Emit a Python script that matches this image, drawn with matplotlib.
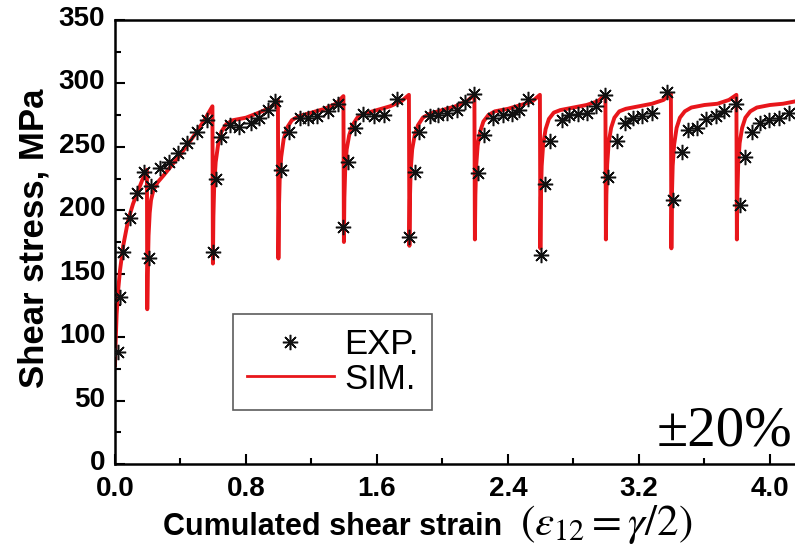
import numpy as np
import matplotlib
matplotlib.use('Agg')
import matplotlib.pyplot as plt
import matplotlib.transforms as mtransforms
from matplotlib.lines import Line2D
from matplotlib.ticker import MultipleLocator

plt.rcParams['font.family'] = ['Liberation Sans', 'DejaVu Sans']

# experimental points (cumulated strain, shear stress MPa)
exp_x = [0.02, 0.03, 0.05, 0.09, 0.135, 0.18, 0.205, 0.22, 0.275, 0.33, 0.385, 0.44,
         0.50, 0.56, 0.60, 0.615, 0.65, 0.70, 0.76, 0.83, 0.88, 0.935, 0.98,
         1.013, 1.06, 1.13, 1.18, 1.235, 1.30, 1.36,
         1.393, 1.425, 1.466, 1.516, 1.58, 1.64, 1.72,
         1.796, 1.833, 1.857, 1.925, 1.97, 2.03, 2.09, 2.14, 2.19,
         2.22, 2.254, 2.31, 2.37, 2.425, 2.47, 2.52,
         2.60, 2.627, 2.657, 2.73, 2.77, 2.83, 2.88, 2.94, 2.99,
         3.01, 3.066, 3.115, 3.165, 3.22, 3.28, 3.37,
         3.41, 3.46, 3.50, 3.555, 3.61, 3.67, 3.72, 3.79,
         3.82, 3.85, 3.89, 3.94, 3.995, 4.055, 4.115]
exp_y = [88, 132, 167, 194, 214, 230, 162, 219, 233, 238, 245, 253,
         262, 271, 167, 225, 258, 267, 266, 269, 273, 279, 286,
         232, 262, 273, 273, 274, 278, 284,
         187, 238, 265, 276, 274, 275, 288,
         179, 230, 262, 274, 275, 277, 279, 285, 292,
         229, 259, 273, 275, 276, 279, 288,
         165, 221, 255, 271, 275, 276, 277, 282, 291,
         226, 255, 269, 273, 274, 277, 293,
         208, 246, 263, 265, 272, 274, 278, 284,
         204, 242, 262, 269, 271, 273, 277]

# simulated curve
sim_x = [0.0, 0.005, 0.01, 0.02, 0.03, 0.05, 0.08, 0.11, 0.14, 0.17, 0.195,
         0.197,
         0.20, 0.205, 0.212, 0.22, 0.235, 0.26, 0.30, 0.35, 0.40, 0.45, 0.50, 0.55, 0.595,
         0.598,
         0.601, 0.606, 0.615, 0.63, 0.65, 0.68, 0.72, 0.80, 0.88, 0.95, 0.995,
         0.998,
         1.001, 1.006, 1.015, 1.03, 1.05, 1.08, 1.12, 1.20, 1.28, 1.35, 1.395,
         1.398,
         1.401, 1.406, 1.415, 1.43, 1.45, 1.48, 1.52, 1.60, 1.68, 1.75, 1.795,
         1.798,
         1.801, 1.806, 1.815, 1.83, 1.85, 1.88, 1.92, 2.00, 2.08, 2.15, 2.195,
         2.198,
         2.201, 2.206, 2.215, 2.23, 2.25, 2.28, 2.32, 2.40, 2.48, 2.55, 2.595,
         2.598,
         2.601, 2.606, 2.615, 2.63, 2.65, 2.68, 2.72, 2.80, 2.88, 2.95, 2.995,
         2.998,
         3.001, 3.006, 3.015, 3.03, 3.05, 3.08, 3.12, 3.20, 3.28, 3.35, 3.395,
         3.398,
         3.401, 3.406, 3.415, 3.43, 3.45, 3.48, 3.52, 3.60, 3.68, 3.75, 3.795,
         3.798,
         3.801, 3.806, 3.815, 3.83, 3.85, 3.88, 3.92, 4.00, 4.08, 4.16]
sim_y = [78, 100, 118, 138, 152, 172, 192, 205, 215, 225, 232,
         122,
         150, 180, 198, 208, 216, 222, 228, 236, 244, 253, 262, 272, 282,
         158,
         195, 220, 238, 252, 262, 268, 271, 273, 277, 281, 287,
         162,
         200, 225, 242, 256, 265, 271, 274, 277, 280, 284, 290,
         175,
         210, 232, 248, 259, 267, 273, 276, 279, 282, 286, 291,
         172,
         208, 232, 248, 259, 267, 273, 276, 279, 282, 286, 291,
         177,
         212, 235, 251, 262, 270, 275, 278, 280, 283, 286, 291,
         170,
         210, 235, 252, 264, 272, 277, 279, 281, 283, 286, 291,
         177,
         212, 236, 253, 265, 273, 278, 280, 282, 284, 287, 292,
         170,
         210, 235, 252, 265, 273, 278, 281, 283, 284, 287, 291,
         177,
         212, 236, 253, 265, 273, 278, 281, 283, 284, 286]

red = '#e8161b'

fig = plt.figure(figsize=(7.95, 5.59), dpi=100)
ax = fig.add_axes([115 / 795, 1 - 464 / 559, 680 / 795, 444 / 559])

ax.plot(sim_x, sim_y, color=red, lw=2.8, zorder=2)
ax.plot(exp_x, exp_y, ls='none', marker=(8, 2, 0), ms=11, mew=1.1,
        color='#111111', zorder=3)

ax.set_xlim(0, 4.153)
ax.set_ylim(0, 350)
ax.xaxis.set_major_locator(MultipleLocator(0.8))
ax.xaxis.set_minor_locator(MultipleLocator(0.4))
ax.yaxis.set_major_locator(MultipleLocator(50))
ax.yaxis.set_minor_locator(MultipleLocator(25))
ax.xaxis.set_major_formatter(matplotlib.ticker.FormatStrFormatter('%.1f'))
ax.tick_params(which='both', direction='in', width=1.5, top=False, right=False)
ax.tick_params(which='major', length=7, labelsize=20)
ax.tick_params(axis='x', which='major', pad=9)
ax.tick_params(axis='y', which='major', pad=7)
ax.tick_params(which='minor', length=4)
# y labels sit a touch above their ticks in the original
shift_up = mtransforms.ScaledTranslation(0, 4 / 100, fig.dpi_scale_trans)
for lab in ax.get_yticklabels():
    lab.set_transform(lab.get_transform() + shift_up)
for lab in ax.get_xticklabels() + ax.get_yticklabels():
    lab.set_fontweight('bold')
for side in ['left', 'bottom', 'top']:
    ax.spines[side].set_linewidth(1.8)
ax.spines['right'].set_visible(False)

fig.text(34 / 795, 1 - 238 / 559, 'Shear stress, MPa', rotation=90,
         ha='center', va='center', fontsize=25, fontweight='bold')
fig.text(163 / 795, 1 - 527 / 559, 'Cumulated shear strain', ha='left',
         va='center', fontsize=22, fontweight='bold')
fig.text(520 / 795, 1 - 525 / 559, r'$\left(\varepsilon_{12}=\gamma/2\right)$',
         ha='left', va='center', fontsize=31, math_fontfamily='stix')

ax.text(657 / 795, 1 - 445 / 559, '\u00b120%', transform=fig.transFigure,
        ha='left', va='baseline', fontsize=41, family='Liberation Serif')

handles = [Line2D([], [], ls='none', marker=(8, 2, 0), ms=11, mew=1.1, color='#111111'),
           Line2D([], [], color=red, lw=2)]
leg = ax.legend(handles, ['EXP.', 'SIM.'], loc='upper left',
                bbox_to_anchor=(233 / 795, 1 - 314 / 559), bbox_transform=fig.transFigure,
                borderaxespad=0, fontsize=25, frameon=True, fancybox=False,
                handlelength=2.5, handletextpad=0.3, labelspacing=0.05,
                borderpad=0.4)
leg.get_frame().set_edgecolor('#333333')
leg.get_frame().set_linewidth(1.2)

fig.savefig('out.png', dpi=100)
